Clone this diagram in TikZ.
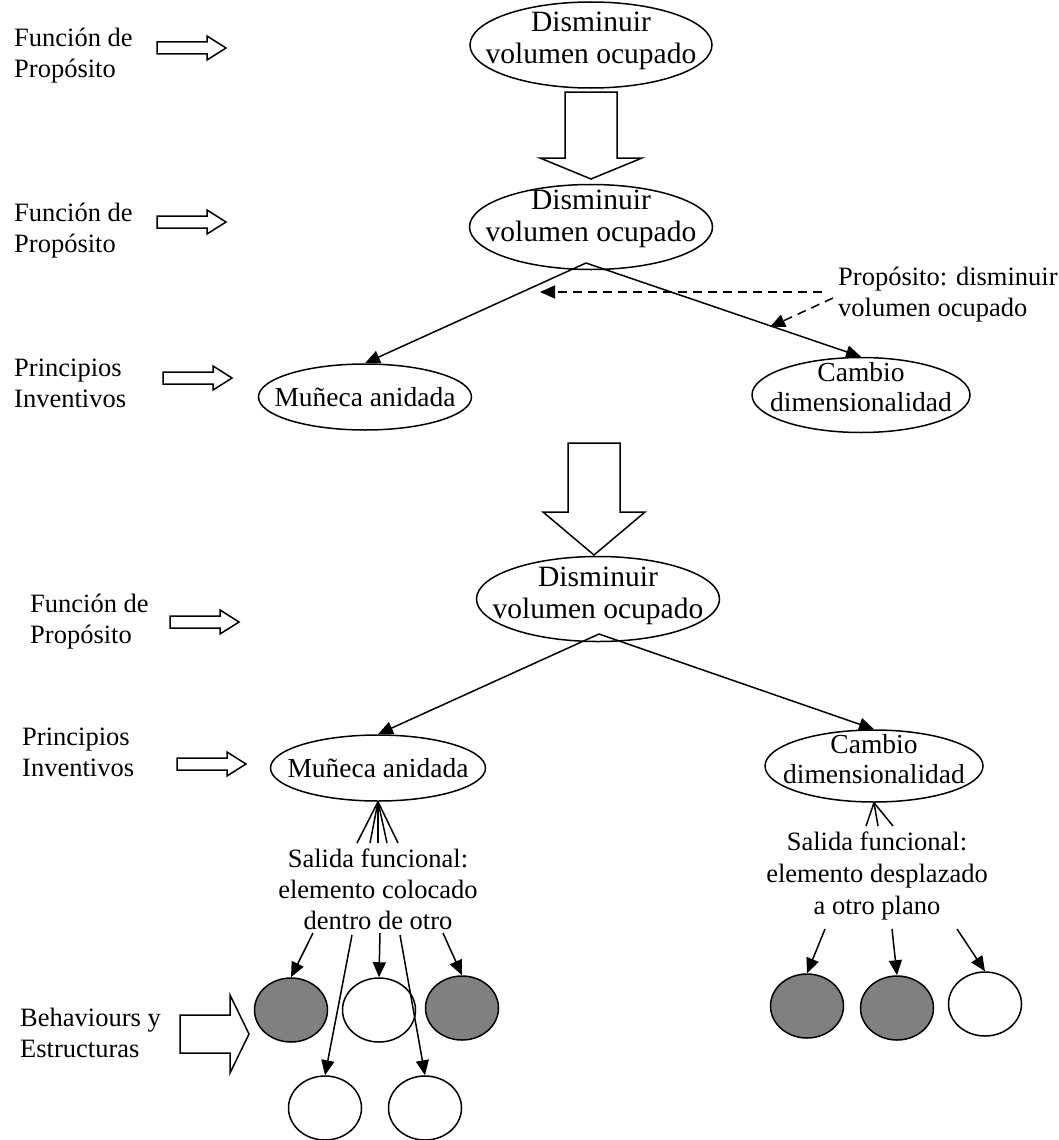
\documentclass[tikz,border=0pt]{standalone}
\usepackage{fontspec}
\setmainfont{Liberation Serif}
\usetikzlibrary{shapes.geometric,arrows.meta,calc}
\newcommand{\rblk}[6]{%
  \draw[blk] (#1,#3-#4) -- (#2-#5,#3-#4) -- (#2-#5,#3-#6) -- (#2,#3) -- (#2-#5,#3+#6) -- (#2-#5,#3+#4) -- (#1,#3+#4) -- cycle;}
\newcommand{\dblk}[6]{%
  \draw[blk] (#1-#5,#2) -- (#1+#5,#2) -- (#1+#5,#3) -- (#1+#6,#3) -- (#1,#4) -- (#1-#6,#3) -- (#1-#5,#3) -- cycle;}
\begin{document}
\begin{tikzpicture}[x=1pt,y=-1pt,
  every node/.style={font=\fontsize{26.5}{31}\selectfont},
  oval/.style={draw,ellipse,line width=1.5pt,inner sep=0pt},
  big/.style={font=\fontsize{29.5}{32}\selectfont,align=center,inner sep=0pt},
  mid/.style={font=\fontsize{27.5}{30}\selectfont,align=center,inner sep=0pt},
  lbl/.style={align=left,anchor=west,inner sep=0pt},
  conn/.style={line width=1.5pt,-{Triangle[length=15pt,width=13pt]}},
  fan/.style={line width=1.5pt},
  blk/.style={draw,line width=1.5pt,fill=white,line join=miter},
  dotw/.style={draw,ellipse,line width=1.5pt,minimum width=73pt,minimum height=64pt,inner sep=0pt,fill=white},
  dotg/.style={dotw,fill={rgb,255:red,128;green,128;blue,128}},
  dsh/.style={conn,dash pattern=on 9pt off 6pt}
  ]
\useasboundingbox (0,0) rectangle (1059,1140);

% left labels
\node[lbl] (l1) at (14,56) {Función de\\Propósito};
\node[lbl] (l2) at (14,231) {Función de\\Propósito};
\node[lbl] (l3) at (14,383) {Principios\\Inventivos};
\node[lbl] (l4) at (30,622) {Función de\\Propósito};
\node[lbl] (l5) at (22,752) {Principios\\Inventivos};
\node[lbl] (l6) at (20,1033) {Behaviours y\\Estructuras};

% block arrows
\rblk{157}{226}{48}{6}{19}{12}
\rblk{157}{226}{222}{6}{19}{12}
\rblk{163}{232}{378}{6}{19}{12}
\rblk{170}{239}{622}{6}{19}{12}
\rblk{177}{246}{764}{6}{19}{12}
\rblk{180}{249}{1034}{19}{19}{39}
\dblk{591}{92}{158}{179}{26}{51}
\dblk{594}{443}{512}{555}{26}{51}

% ellipses
\node[oval,minimum width=242pt,minimum height=86pt,label={[big,yshift=4pt]center:Disminuir\\volumen ocupado}] (e1) at (591,45) {};
\node[oval,minimum width=243pt,minimum height=85pt,label={[big,yshift=8pt]center:Disminuir\\volumen ocupado}] (e2) at (591,227) {};
\node[oval,minimum width=213pt,minimum height=66pt,label={[mid]center:Muñeca anidada}] (m1) at (365,397) {};
\node[oval,minimum width=218pt,minimum height=75pt,label={[mid,yshift=8pt]center:Cambio\\dimensionalidad}] (c1) at (861,395) {};
\node[oval,minimum width=243pt,minimum height=85pt,label={[big,yshift=3pt]center:Disminuir\\volumen ocupado}] (e3) at (598,599) {};
\node[oval,minimum width=215pt,minimum height=66pt,label={[mid]center:Muñeca anidada}] (m2) at (378,768) {};
\node[oval,minimum width=218pt,minimum height=72pt,label={[mid,yshift=7pt]center:Cambio\\dimensionalidad}] (c2) at (874,766) {};

% connectors section 2
\coordinate (a2) at (586,263);
\draw[conn] (a2) -- (m1.north);
\draw[conn] (a2) -- (c1.north);
\node[lbl] (prop) at (838,295) {Propósito: disminuir\\volumen ocupado};
\coordinate (d1s) at (822,292);
\coordinate (d1e) at (540,292);
\coordinate (d2s) at (833,298);
\coordinate (d2e) at (770,327);
\draw[dsh] (d1s) -- (d1e);
\draw[dsh] (d2s) -- (d2e);

% connectors section 3
\coordinate (a3) at (599,634);
\draw[conn] (a3) -- (m2.north);
\draw[conn] (a3) -- (c2.north);

% salida texts
\node[align=center,inner sep=0pt] (s1) at (378,889) {Salida funcional:\\elemento colocado\\dentro de otro};
\node[align=center,inner sep=0pt,font=\fontsize{26.5}{32}\selectfont] (s2) at (877,876) {Salida funcional:\\elemento desplazado\\a otro plano};

% fans
\foreach \x [count=\i] in {357,370,378,387,398} {
  \coordinate (fl\i) at (\x,843);
  \draw[fan] (fl\i) -- (m2.south);
}
\foreach \x [count=\i] in {866,878,893} {
  \coordinate (fr\i) at (\x,826);
  \draw[fan] (fr\i) -- (c2.south);
}

% bottom circles
\node[dotg] (g1) at (291,1010) {};
\node[dotw] (w2) at (379,1010) {};
\node[dotg] (g3) at (462,1008) {};
\node[dotw] (w4) at (325,1108) {};
\node[dotw] (w5) at (425,1108) {};
\node[dotg] (gA) at (807,1006) {};
\node[dotg] (gB) at (897,1008) {};
\node[dotw] (wC) at (985,1004) {};

\coordinate (b1) at (313,933);
\coordinate (b2) at (380,933);
\coordinate (b3) at (443,933);
\coordinate (b4) at (352,935);
\coordinate (b5) at (400,935);
\draw[conn] (b1) -- (g1.north);
\draw[conn] (b2) -- (w2.north);
\draw[conn] (b3) -- (g3.north);
\draw[conn] (b4) -- (w4.north);
\draw[conn] (b5) -- (w5.north);

\coordinate (r1) at (825,929);
\coordinate (r2) at (892,929);
\coordinate (r3) at (957,929);
\draw[conn] (r1) -- (gA.north);
\draw[conn] (r2) -- (gB.north);
\draw[conn] (r3) -- (wC.north);
\end{tikzpicture}
\end{document}
